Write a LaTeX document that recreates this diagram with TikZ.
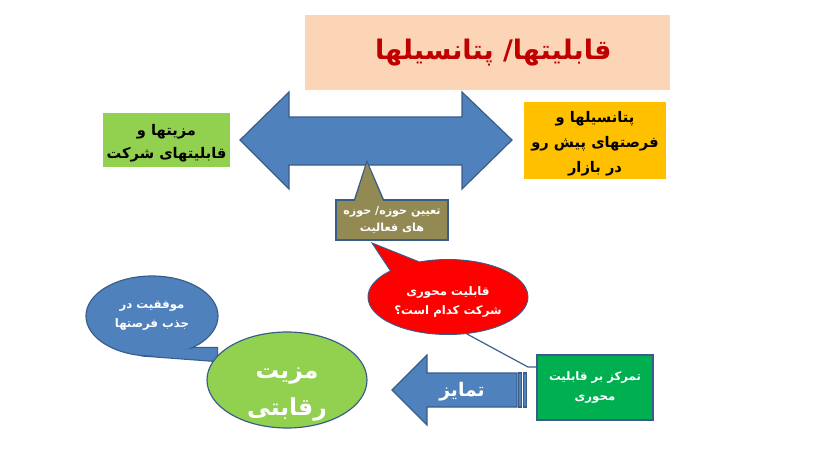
\documentclass[tikz,border=0pt]{standalone}
\usepackage{fontspec}
\usepackage{tikz}
\usetikzlibrary{shapes.geometric,shapes.callouts}
\TeXXeTstate=1
\newfontfamily\arabicfont[Script=Arabic]{DejaVu Sans}
\newcommand{\fatext}[1]{\beginR #1\endR}
\definecolor{titlepeach}{HTML}{FBD5B5}
\definecolor{titlered}{HTML}{C00000}
\definecolor{arrowblue}{HTML}{4F81BD}
\definecolor{edgeblue}{HTML}{385D8A}
\definecolor{leafgreen}{HTML}{92D050}
\definecolor{marketgold}{HTML}{FFC000}
\definecolor{scopeolive}{HTML}{938953}
\definecolor{focusgreen}{HTML}{00B050}

\begin{document}
\begin{tikzpicture}[x=0.03cm, y=-0.03cm,
    box/.style={inner sep=0pt, align=center},
    blueshape/.style={fill=arrowblue, draw=edgeblue, line width=1pt}]
    \useasboundingbox (0,0) rectangle (836,470);

    % Title
    \node[box, fill=titlepeach, text=titlered, minimum width=10.95cm, minimum height=2.25cm,
          font=\arabicfont\bfseries\fontsize{23}{27}\selectfont] (title) at (487.5,52.5)
          {\hspace{10pt}\fatext{قابلیتها/ پتانسیلها}};

    % Double arrow
    \filldraw[blueshape] (240,140) -- (289,92) -- (289,117) -- (462,117) -- (462,92) -- (512,140)
        -- (462,189) -- (462,165) -- (289,165) -- (289,189) -- cycle;

    % Side boxes
    \node[box, fill=leafgreen, minimum width=3.81cm, minimum height=1.62cm,
          font=\arabicfont\bfseries\fontsize{12.5}{19}\selectfont] (strength) at (166.5,140)
          {\fatext{\rule{0pt}{15pt}مزیتها و}\\\fatext{قابلیتهای شرکت}};
    \node[box, fill=marketgold, minimum width=4.26cm, minimum height=2.31cm,
          font=\arabicfont\bfseries\fontsize{12.5}{21}\selectfont] (market) at (595,140.5)
          {\fatext{\rule{0pt}{15pt}پتانسیلها و}\\\fatext{فرصتهای پیش رو}\\\fatext{در بازار}};

    % Callouts
    \filldraw[fill=scopeolive, draw=edgeblue, line width=2pt] (355,200) -- (367,163) -- (383,200) -- cycle;
    \node[box, fill=scopeolive, draw=edgeblue, line width=1pt, text=white, minimum width=3.36cm, minimum height=1.2cm,
          font=\arabicfont\bfseries\fontsize{9.5}{14}\selectfont] (scope) at (392,220)
          {\fatext{تعیین حوزه/ حوزه}\\\fatext{های فعالیت}};
    \fill[scopeolive] (355,201) -- (367,163) -- (383,201) -- cycle;
    \node[box, ellipse callout, callout absolute pointer={(372,243)}, callout pointer arc=25,
          fill=red, draw=edgeblue, line width=0.8pt, text=white, minimum width=4.8cm, minimum height=2.25cm,
          font=\arabicfont\bfseries\fontsize{10}{16}\selectfont] (core) at (448,297)
          {\fatext{\rule{0pt}{16pt}قابلیت محوری}\\\fatext{شرکت کدام است؟}};

    % Success bubble
    \filldraw[blueshape, line width=2pt] (195,348) -- (217,348) -- (217,361) -- (150,356) -- cycle;
    \node[box, ellipse, fill=arrowblue, draw=edgeblue, line width=1pt, text=white,
          minimum width=3.96cm, minimum height=2.4cm,
          font=\arabicfont\bfseries\fontsize{10}{16}\selectfont] (success) at (152,316)
          {\fatext{موفقیت در}\\\fatext{جذب فرصتها}};
    \fill[arrowblue] (195,348) -- (217,348) -- (217,361) -- (150,356) -- cycle;

    % Competitive advantage
    \node[box, ellipse, inner ysep=-20pt, fill=leafgreen, draw=edgeblue, line width=1pt, text=white,
          minimum width=4.8cm, minimum height=2.88cm,
          font=\arabicfont\bfseries\fontsize{20}{31}\selectfont] (advantage) at (287,380)
          {\fatext{\rule{0pt}{34pt}مزیت}\\\fatext{رقابتی}};

    % Striped arrow
    \filldraw[blueshape] (392,390) -- (427,355) -- (427,373) -- (517,373) -- (517,407) -- (427,407) -- (427,425) -- cycle;
    \filldraw[blueshape] (518.5,373) rectangle (521.5,407);
    \filldraw[blueshape] (523.5,373) rectangle (526.5,407);
    \node[box, text=white, font=\arabicfont\bfseries\fontsize{16}{18}\selectfont] (distinct) at (462,392)
          {\fatext{تمایز}};

    % Focus box
    \node[box, fill=focusgreen, draw=edgeblue, line width=1.2pt, text=white,
          minimum width=3.48cm, minimum height=1.95cm,
          font=\arabicfont\bfseries\fontsize{10}{17}\selectfont] (focus) at (595,387.5)
          {\fatext{تمرکز بر قابلیت}\\\fatext{محوری}};
    \coordinate (elbow) at (528,367);
    \draw[edgeblue, line width=1pt] (core.-63) -- (elbow) -- (elbow -| focus.west);
\end{tikzpicture}
\end{document}
